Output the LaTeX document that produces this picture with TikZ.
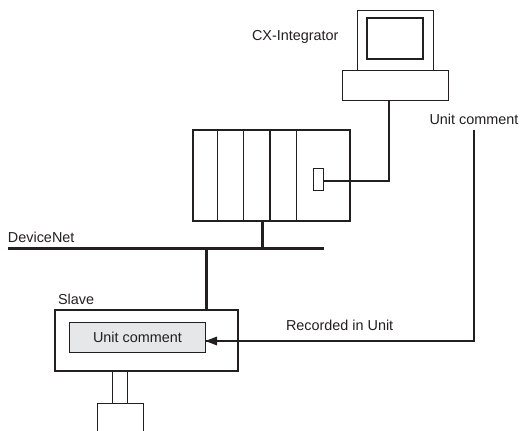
\documentclass[tikz,border=0pt]{standalone}
\usepackage{fontspec}
\setmainfont{Liberation Sans}
\usetikzlibrary{arrows.meta}
\definecolor{ink}{HTML}{231F20}
\definecolor{fillgray}{HTML}{E6E7E8}
\tikzset{
  px/.style={x=1pt,y=-1pt},
  boxthin/.style={draw=ink,line width=1pt,inner sep=0pt,outer sep=0pt,anchor=north west},
  boxthick/.style={draw=ink,line width=2pt,inner sep=0pt,outer sep=0pt,anchor=north west},
  label/.style={font=\fontsize{14.4pt}{16pt}\selectfont,text=ink,inner sep=0pt,outer sep=0pt},
  thinline/.style={draw=ink,line width=1pt},
  cable/.style={draw=ink,line width=2pt},
  bus/.style={draw=ink,line width=3.2pt},
}
\begin{document}
\begin{tikzpicture}[px]
\useasboundingbox (0,0) rectangle (520,431);
% computer
\node[boxthin,minimum width=76pt,minimum height=60pt] (monitor) at (357.5,10.5) {};
\node[boxthick,minimum width=56pt,minimum height=41pt] (screen) at (367,18) {};
\node[boxthin,minimum width=106pt,minimum height=30pt] (base) at (342.5,70.5) {};
% PLC
\node[boxthick,minimum width=157pt,minimum height=91pt] (plc) at (193,130) {};
\node[boxthin,minimum width=10pt,minimum height=22pt] (port) at (313.5,168.5) {};
\coordinate (d1) at (217.5,130);
\coordinate (d2) at (243.5,130);
\coordinate (d3) at (270,130);
\coordinate (d4) at (296.5,130);
\draw[thinline] (d1) -- (d1 |- plc.south);
\draw[thinline] (d2) -- (d2 |- plc.south);
\draw[cable] (d3) -- (d3 |- plc.south);
\draw[thinline] (d4) -- (d4 |- plc.south);
% computer to PLC
\coordinate (elbow) at (389,181);
\draw[cable] (base.south -| elbow) -- (elbow) -- (port.east |- elbow);
% DeviceNet
\coordinate (busl) at (8,248.5);
\coordinate (busr) at (324,248.5);
\draw[bus] (busl) -- (busr);
\coordinate (plcdrop) at (262.5,248.5);
\draw[bus,line width=3pt] (plc.south -| plcdrop) -- (plcdrop);
% Slave
\node[boxthick,minimum width=183pt,minimum height=61pt] (slave) at (55,310) {};
\node[boxthin,fill=fillgray,minimum width=136pt,minimum height=30pt,text=ink,font=\fontsize{14.4pt}{16pt}\selectfont] (comment) at (69.5,322.5) {Unit comment};
\coordinate (slavedrop) at (206,248.5);
\draw[bus,line width=3pt] (slavedrop) -- (slave.north -| slavedrop);
% lower device
\coordinate (stemA) at (112.5,403.5);
\coordinate (stemB) at (127.5,403.5);
\draw[thinline] (slave.south -| stemA) -- (stemA);
\draw[thinline] (slave.south -| stemB) -- (stemB);
\coordinate (devTL) at (97.5,403.5);
\coordinate (devTR) at (143.5,403.5);
\coordinate (devBL) at (97.5,431);
\coordinate (devBR) at (143.5,431);
\draw[thinline] (devBL) -- (devTL) -- (devTR) -- (devBR);
% recorded path
\coordinate (riser) at (474,130);
\coordinate (pathcorner) at (474,341);
\coordinate (tip) at (205.5,341);
\draw[cable] (riser) -- (pathcorner) -- (comment.east |- tip);
\draw[draw=none,fill=ink] (tip) -- (217,336.5) -- (217,345.5) -- cycle;
% labels
\node[label,anchor=west] (cx) at (252,37) {CX-Integrator};
\node[label,anchor=west] (uc) at (429.5,119) {Unit comment};
\node[label,anchor=west] (rec) at (286,325.5) {Recorded in Unit};
\node[label,anchor=west] (sl) at (58,299) {Slave};
\node[label,anchor=west] (dn) at (8,237) {DeviceNet};
\end{tikzpicture}
\end{document}
